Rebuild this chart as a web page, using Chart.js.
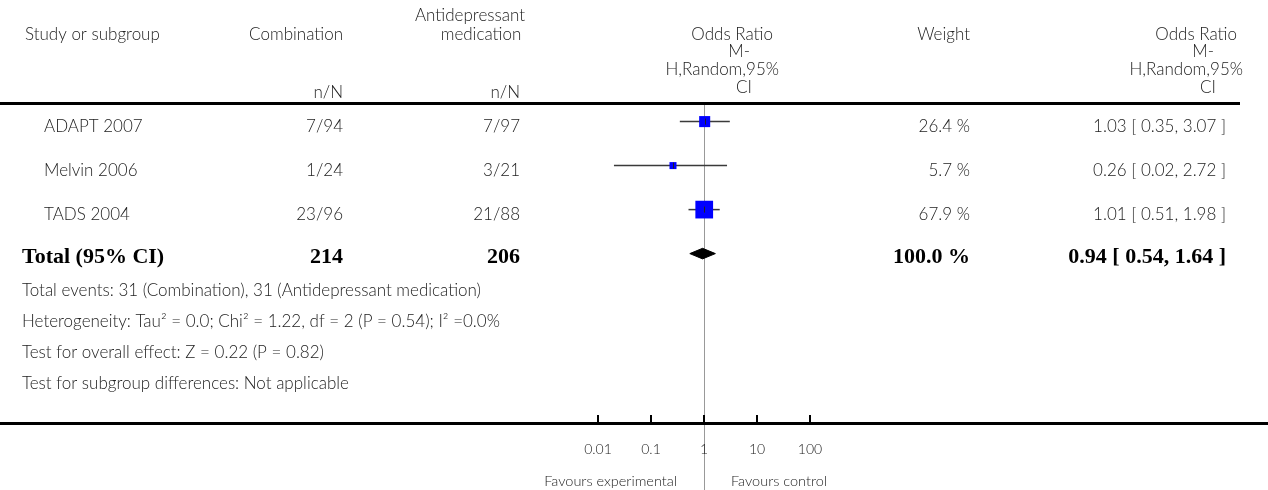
<!DOCTYPE html>
<html>
<head>
<meta charset="utf-8">
<script src="https://cdn.jsdelivr.net/npm/chart.js@4"></script>
<style>
  body { margin: 0; background: #fff; }
  canvas { display: block; }
</style>
</head>
<body>
<canvas id="forest" width="1268" height="490"></canvas>
<script>
// study data
const studies = ['ADAPT 2007', 'Melvin 2006', 'TADS 2004'];
const comboEvents = [7, 1, 23];
const comboTotals = [94, 24, 96];
const medEvents = [7, 3, 21];
const medTotals = [97, 21, 88];
const weights = [26.4, 5.7, 67.9];
const oddsRatio = [1.03, 0.26, 1.01];
const ciLow = [0.35, 0.02, 0.51];
const ciHigh = [3.07, 2.72, 1.98];

// pooled result
const totalLabel = 'Total (95% CI)';
const totalCombo = 214;
const totalMed = 206;
const totalWeight = 100.0;
const totalOR = 0.94;
const totalLow = 0.54;
const totalHigh = 1.64;

const footNotes = [
    'Total events: 31 (Combination), 31 (Antidepressant medication)',
    'Heterogeneity: Tau\u00B2 = 0.0; Chi\u00B2 = 1.22, df = 2 (P = 0.54); I\u00B2 =0.0%',
    'Test for overall effect: Z = 0.22 (P = 0.82)',
    'Test for subgroup differences: Not applicable'
];

const tickValues = [0.01, 0.1, 1, 10, 100];
const tickLabels = ['0.01', '0.1', '1', '10', '100'];

const SANS = 'Lato, "Open Sans", sans-serif';
const SERIF = '"Liberation Serif", "DejaVu Serif", serif';
const TEXT = '#222';

function fmt(v) { return v.toFixed(2); }

// one CI line per study
const ciSets = studies.map((s, i) => ({
    type: 'scatter',
    showLine: true,
    data: [{ x: ciLow[i], y: i }, { x: ciHigh[i], y: i }],
    borderColor: '#3a3a3a',
    borderWidth: 1.5,
    pointRadius: 0,
    order: 2
}));

// squares sized by weight
const squareSet = {
    type: 'scatter',
    data: studies.map((s, i) => ({ x: oddsRatio[i], y: i })),
    pointStyle: 'rect',
    pointRadius: weights.map(w => Math.max(7, 2.15 * Math.sqrt(w)) / Math.SQRT2),
    backgroundColor: '#0000ff',
    borderWidth: 0,
    order: 1
};

// pooled diamond
const dh = 0.12;
const ty = studies.length;
const diamondSet = {
    type: 'scatter',
    showLine: true,
    fill: 'shape',
    data: [
        { x: totalLow, y: ty }, { x: totalOR, y: ty - dh },
        { x: totalHigh, y: ty }, { x: totalOR, y: ty + dh },
        { x: totalLow, y: ty }
    ],
    borderColor: '#000',
    backgroundColor: '#000',
    borderWidth: 1,
    pointRadius: 0,
    tension: 0,
    order: 1
};

function txt(ctx, s, x, y, align, font, color) {
    ctx.font = font;
    ctx.fillStyle = color || TEXT;
    ctx.textAlign = align;
    ctx.textBaseline = 'middle';
    ctx.fillText(s, x, y);
}

const tablePlugin = {
    id: 'forestTable',
    beforeDatasetsDraw(chart) {
        const ctx = chart.ctx;
        const xs = chart.scales.x;
        const area = chart.chartArea;
        const x1 = Math.round(xs.getPixelForValue(1)) + 0.5;
        ctx.save();
        ctx.strokeStyle = '#999';
        ctx.lineWidth = 1;
        ctx.beginPath();
        ctx.moveTo(x1, area.top);
        ctx.lineTo(x1, chart.height);
        ctx.stroke();
        ctx.restore();
    },
    afterDraw(chart) {
        const ctx = chart.ctx;
        const xs = chart.scales.x;
        const ys = chart.scales.y;
        const area = chart.chartArea;
        const f = '300 17px ' + SANS;
        ctx.save();

        // header
        txt(ctx, 'Study or subgroup', 25, 35, 'left', f);
        txt(ctx, 'Combination', 343, 35, 'right', f);
        txt(ctx, 'Antidepressant', 470, 16, 'center', f);
        txt(ctx, 'medication', 481, 35, 'center', f);
        txt(ctx, 'n/N', 343, 93, 'right', f);
        txt(ctx, 'n/N', 520, 93, 'right', f);
        [0, 464].forEach(dx => {
            txt(ctx, 'Odds Ratio', 773 + dx, 35, 'right', f);
            txt(ctx, 'M-', 750 + dx, 52, 'right', f);
            txt(ctx, 'H,Random,95%', 779 + dx, 70, 'right', f);
            txt(ctx, 'CI', 752 + dx, 88, 'right', f);
        });
        txt(ctx, 'Weight', 970, 35, 'right', f);

        ctx.fillStyle = '#000';
        ctx.fillRect(0, area.top - 2, 1240, 3);

        // study rows
        studies.forEach((s, i) => {
            const y = ys.getPixelForValue(i) + 5;
            txt(ctx, s, 44, y, 'left', f);
            txt(ctx, comboEvents[i] + '/' + comboTotals[i], 343, y, 'right', f);
            txt(ctx, medEvents[i] + '/' + medTotals[i], 520, y, 'right', f);
            txt(ctx, weights[i].toFixed(1) + ' %', 970, y, 'right', f);
            txt(ctx, fmt(oddsRatio[i]) + ' [ ' + fmt(ciLow[i]) + ', ' + fmt(ciHigh[i]) + ' ]', 1226, y, 'right', f);
            // centre mark
            const px = xs.getPixelForValue(oddsRatio[i]);
            const py = ys.getPixelForValue(i);
            ctx.fillStyle = '#222';
            ctx.fillRect(Math.round(px), py - 3, 1, 6);
        });

        // total row
        const bf = 'bold 22px ' + SERIF;
        const yt = ys.getPixelForValue(studies.length) + 4;
        txt(ctx, totalLabel, 22, yt, 'left', bf, '#000');
        txt(ctx, String(totalCombo), 343, yt, 'right', bf, '#000');
        txt(ctx, String(totalMed), 520, yt, 'right', bf, '#000');
        txt(ctx, totalWeight.toFixed(1) + ' %', 970, yt, 'right', bf, '#000');
        txt(ctx, fmt(totalOR) + ' [ ' + fmt(totalLow) + ', ' + fmt(totalHigh) + ' ]', 1226, yt, 'right', bf, '#000');

        // footnotes
        footNotes.forEach((s, i) => {
            txt(ctx, s, 22, 291 + i * 30.7, 'left', f);
        });

        // bottom axis
        ctx.fillStyle = '#000';
        ctx.fillRect(0, area.bottom - 1, chart.width, 3);
        tickValues.forEach((v, i) => {
            const px = Math.round(xs.getPixelForValue(v));
            ctx.fillStyle = '#000';
            ctx.fillRect(px - 1, area.bottom - 8, 2, 8);
            txt(ctx, tickLabels[i], px, area.bottom + 26, 'center', '300 14px ' + SANS);
        });
        const x1 = xs.getPixelForValue(1);
        txt(ctx, 'Favours experimental', x1 - 27, area.bottom + 58, 'right', '300 14.5px ' + SANS);
        txt(ctx, 'Favours control', x1 + 27, area.bottom + 58, 'left', '300 14.5px ' + SANS);

        ctx.restore();
    }
};

new Chart(document.getElementById('forest'), {
    type: 'scatter',
    data: { datasets: [...ciSets, squareSet, diamondSet] },
    options: {
        responsive: false,
        animation: false,
        devicePixelRatio: 1,
        layout: { padding: { left: 598, right: 458, top: 104, bottom: 67 } },
        plugins: { legend: { display: false }, tooltip: { enabled: false } },
        scales: {
            x: { type: 'logarithmic', min: 0.01, max: 100, display: false },
            y: { type: 'linear', min: -0.4, max: 6.85, reverse: true, display: false }
        }
    },
    plugins: [tablePlugin]
});
</script>
</body>
</html>
